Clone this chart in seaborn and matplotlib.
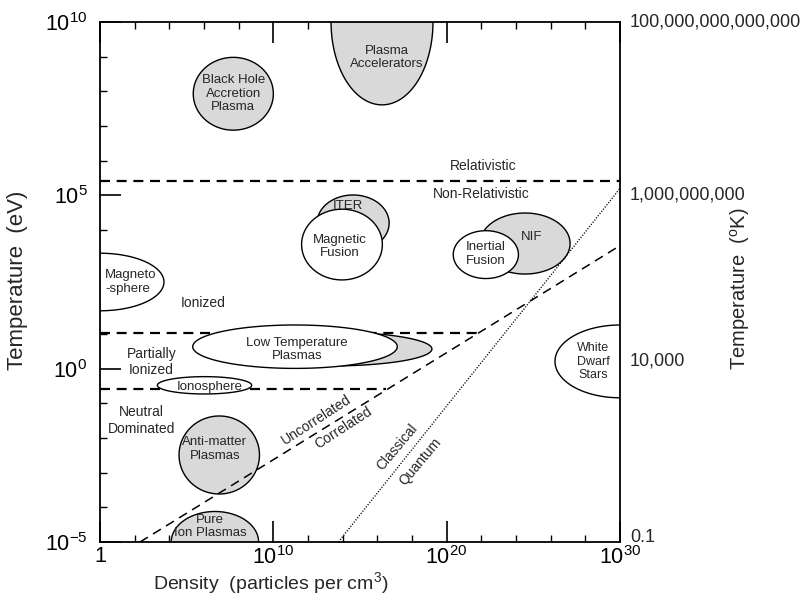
import numpy as np
import matplotlib
matplotlib.use("Agg")
import matplotlib.pyplot as plt
import matplotlib.transforms as mtransforms
import seaborn as sns
from matplotlib.ticker import FixedLocator, FixedFormatter, NullLocator, NullFormatter

# ---------------- data (log10 density [cm^-3], log10 temperature [eV]) ----------------
region_names = ["Plasma\nAccelerators", "Black Hole\nAccretion\nPlasma", "ITER", "Magnetic\nFusion",
                "NIF", "Inertial\nFusion", "Magneto\n-sphere", "", "Low Temperature\nPlasmas",
                "Ionosphere", "Anti-matter\nPlasmas", "Pure\nIon Plasmas", "White\nDwarf\nStars"]
region_logn = [16.27, 7.69, 14.6, 13.96, 24.52, 22.26, 0.0, 13.27, 11.25, 6.03, 6.88, 6.63, 30.0]
region_logT = [10.0, 7.93, 4.20, 3.58, 3.61, 3.29, 2.50, 0.568, 0.634, -0.48, -2.49, -5.0, 0.21]
region_dlogn = [2.94, 2.31, 2.08, 2.33, 2.6, 1.88, 3.69, 5.88, 5.9, 2.72, 2.32, 2.52, 3.75]
region_dlogT = [2.39, 1.05, 0.81, 1.02, 0.88, 0.69, 0.83, 0.49, 0.626, 0.25, 1.125, 0.88, 1.05]
region_filled = [True, True, True, False, True, False, False, True, False, False, True, True, False]
label_logn = [16.54, 7.69, 14.31, 13.85, 24.9, 22.27, 0.29, 0, 11.35, 6.35, 6.63, 6.35, 28.46]
label_logT = [8.98, 7.93, 4.69, 3.52, 3.81, 3.31, 2.50, 0, 0.55, -0.52, -2.32, -4.55, 0.20]

# boundaries
relativistic_logT = 5.41
ionized_logT = 1.04
ionized_end_logn = 21.9
neutral_logT = -0.595
neutral_end_logn = 16.5
coupling_logn = [2.31, 30.0]
coupling_logT = [-5.0, 3.55]
degeneracy_logn = [13.75, 30.0]
degeneracy_logT = [-5.0, 5.2]

x_ticks = [0, 10, 20, 30]
x_ticklabels = ["1", r"$\mathregular{10^{10}}$", r"$\mathregular{10^{20}}$", r"$\mathregular{10^{30}}$"]
y_ticks = [-5, 0, 5, 10]
y_ticklabels = [r"$\mathregular{10^{-5}}$", r"$\mathregular{10^{0}}$", r"$\mathregular{10^{5}}$", r"$\mathregular{10^{10}}$"]
kelvin_labels = ["0.1", "10,000", "1,000,000,000", "100,000,000,000,000"]

# ---------------- style ----------------
sns.set_style("ticks")
plt.rcParams['font.family'] = ['Liberation Sans', 'DejaVu Sans']
plt.rcParams['mathtext.fontset'] = 'custom'
plt.rcParams['mathtext.rm'] = 'Liberation Sans'
plt.rcParams['mathtext.it'] = 'Liberation Sans:italic'
plt.rcParams['mathtext.bf'] = 'Liberation Sans:bold'

GRAY = "#d9d9d9"

fig = plt.figure(figsize=(8.06, 6.04), dpi=100)
ax = fig.add_axes([100 / 806, 1 - 542 / 604, 520 / 806, 520 / 604])
ax.set_xscale('log')
ax.set_yscale('log')
ax.set_xlim(1, 1e30)
ax.set_ylim(1e-5, 1e10)

# horizontal boundaries (under the regions)
hdash = (0, (4.5, 3))
sns.lineplot(x=[1, 1e30], y=[10 ** relativistic_logT] * 2, ax=ax, color='black', lw=1.6,
             linestyle=hdash, zorder=1)
sns.lineplot(x=[1, 10 ** ionized_end_logn], y=[10 ** ionized_logT] * 2, ax=ax, color='black', lw=1.6,
             linestyle=hdash, zorder=1)
sns.lineplot(x=[1, 10 ** neutral_end_logn], y=[10 ** neutral_logT] * 2, ax=ax, color='black', lw=1.6,
             linestyle=hdash, zorder=1)

# regions
t = np.linspace(0, 2 * np.pi, 400)
for cx, cy, hw, hh, filled in zip(region_logn, region_logT, region_dlogn, region_dlogT, region_filled):
    ex = 10 ** (cx + hw * np.cos(t))
    ey = 10 ** (cy + hh * np.sin(t))
    ax.fill(ex, ey, facecolor=GRAY if filled else 'white', edgecolor='black', lw=1.0, zorder=2)

for name, lx, ly in zip(region_names, label_logn, label_logT):
    if not name:
        continue
    ha = 'left' if name.startswith("Magneto") else 'center'
    fs = 9 if name.startswith("White") else 9.5
    ax.text(10 ** lx, 10 ** ly, name, ha=ha, va='center', multialignment=ha, fontsize=fs,
            zorder=4, linespacing=1.15)

# diagonal boundaries (over the regions)
sns.lineplot(x=[10 ** v for v in coupling_logn], y=[10 ** v for v in coupling_logT], ax=ax,
             color='black', lw=1.1, linestyle=(0, (6, 4)), zorder=3)
sns.lineplot(x=[10 ** v for v in degeneracy_logn], y=[10 ** v for v in degeneracy_logT], ax=ax,
             color='black', lw=1.0, linestyle=(0, (0.8, 1.2)), zorder=3)

# region texts
txt = dict(ha='center', va='center', fontsize=10, zorder=4)
ax.text(10 ** 22.1, 10 ** 5.86, "Relativistic", **txt)
ax.text(10 ** 22.0, 10 ** 5.04, "Non-Relativistic", **txt)
ax.text(10 ** 5.96, 10 ** 1.89, "Ionized", **txt)
ax.text(10 ** 2.98, 10 ** 0.19, "Partially\nIonized", linespacing=1.25, **txt)
ax.text(10 ** 2.41, 10 ** -1.49, "Neutral\nDominated", linespacing=1.25, **txt)
ax.text(10 ** 12.5, 10 ** -1.48, "Uncorrelated", rotation=33, rotation_mode='anchor', **txt)
ax.text(10 ** 14.04, 10 ** -1.72, "Correlated", rotation=33, rotation_mode='anchor', **txt)
ax.text(10 ** 17.12, 10 ** -2.25, "Classical", rotation=50, rotation_mode='anchor', **txt)
ax.text(10 ** 18.46, 10 ** -2.68, "Quantum", rotation=50, rotation_mode='anchor', **txt)

# ticks
ax.xaxis.set_major_locator(FixedLocator([10.0 ** k for k in x_ticks]))
ax.xaxis.set_major_formatter(FixedFormatter(x_ticklabels))
ax.xaxis.set_minor_locator(FixedLocator([10.0 ** k for k in range(0, 31, 2) if k % 10 != 0]))
ax.xaxis.set_minor_formatter(NullFormatter())
ax.yaxis.set_major_locator(FixedLocator([10.0 ** k for k in y_ticks]))
ax.yaxis.set_major_formatter(FixedFormatter(y_ticklabels))
ax.yaxis.set_minor_locator(FixedLocator([10.0 ** k for k in range(-5, 11) if k % 5 != 0]))
ax.yaxis.set_minor_formatter(NullFormatter())
ax.tick_params(which='both', direction='in', top=True, right=True, colors='black')
ax.tick_params(which='major', length=15, width=1.2, labelsize=15.5, pad=3)
ax.tick_params(which='minor', length=5, width=1.0)
ax.tick_params(axis='y', which='major', pad=9)
for s in ax.spines.values():
    s.set_linewidth(1.3)
    s.set_color('black')

# right-hand Kelvin scale labels
blend = mtransforms.blended_transform_factory(ax.transAxes, ax.transData)
k_offsets_px = [5, 8, 0, 0]
for yk, lab, off in zip(y_ticks, kelvin_labels, k_offsets_px):
    tr = mtransforms.offset_copy(blend, fig=fig, x=10, y=off, units='dots')
    ax.text(1.0, 10.0 ** yk, lab, transform=tr, ha='left', va='center', fontsize=13, clip_on=False)

ax2 = ax.twinx()
ax2.set_yscale('log')
ax2.set_ylim(1e-5, 1e10)
ax2.yaxis.set_major_locator(NullLocator())
ax2.yaxis.set_minor_locator(NullLocator())
for s in ax2.spines.values():
    s.set_visible(False)

ax.set_xlabel("Density  (particles per cm$^{\\mathregular{3}}$)", fontsize=14)
ax.xaxis.set_label_coords(0.328, -0.0904)
ax.xaxis.label.set_va('baseline')
ax.set_ylabel("Temperature  (eV)", fontsize=16)
ax.yaxis.set_label_coords(-0.158, 0.504)
ax.yaxis.label.set_va('center')
ax2.set_ylabel("Temperature  ($^{\\mathregular{o}}$K)", fontsize=14.5)
ax2.yaxis.set_label_coords(1.231, 0.487)
ax2.yaxis.label.set_va('center')

fig.savefig("out.png", dpi=100)
